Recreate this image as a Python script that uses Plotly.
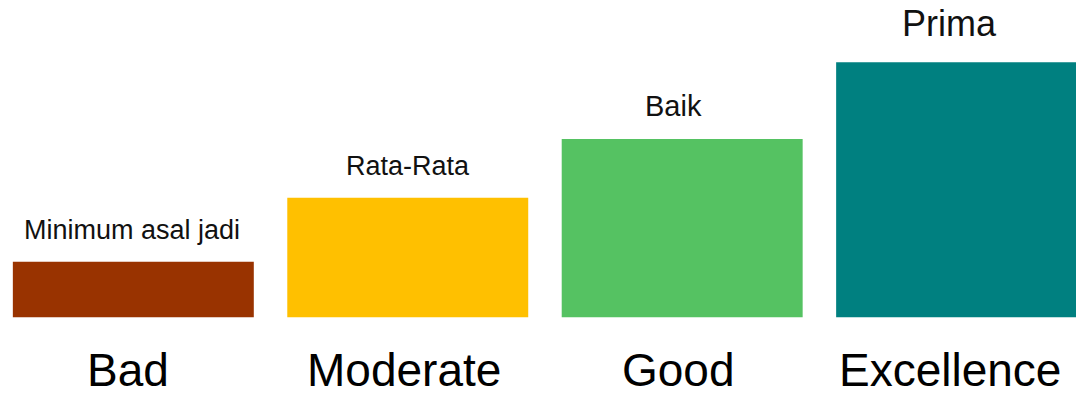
import plotly.graph_objects as go

categories = ["Bad", "Moderate", "Good", "Excellence"]
labels = ["Minimum asal jadi", "Rata-Rata", "Baik", "Prima"]
values = [55.6, 119.6, 178.3, 255.0]
colors = ["#993300", "#FFC000", "#55C262", "#008080"]
label_sizes = [27, 27, 29, 36]

x = list(range(len(categories)))
FONT = "Liberation Sans, Arial, sans-serif"

fig = go.Figure(
    go.Bar(
        x=x,
        y=values,
        marker=dict(color=colors, line=dict(width=0)),
        width=0.878,
        hoverinfo="skip",
    )
)

label_xshift = [-1, 0, -9, -7]
cat_xshift = [-5, -4, -4, -7]
for i, (lab, v, s) in enumerate(zip(labels, values, label_sizes)):
    fig.add_annotation(
        x=x[i], y=v, xref="x", yref="y", text=lab, showarrow=False,
        yanchor="bottom", yshift=15 if s < 30 else 16, xshift=label_xshift[i],
        font=dict(family=FONT, size=s, color="#111111"),
    )
for i, c in enumerate(categories):
    fig.add_annotation(
        x=x[i], y=0, xref="x", yref="y", text=c, showarrow=False,
        yanchor="bottom", yshift=-80, xshift=cat_xshift[i], borderpad=0,
        font=dict(family=FONT, size=46, color="#000000"),
    )

fig.update_layout(
    width=1076, height=398,
    margin=dict(l=0, r=0, t=0, b=0),
    paper_bgcolor="white", plot_bgcolor="white",
    showlegend=False,
    xaxis=dict(range=[-0.4858, 3.435], visible=False, fixedrange=True),
    yaxis=dict(range=[-80.7, 317.3], visible=False, fixedrange=True),
)

fig.write_html("out.html")
